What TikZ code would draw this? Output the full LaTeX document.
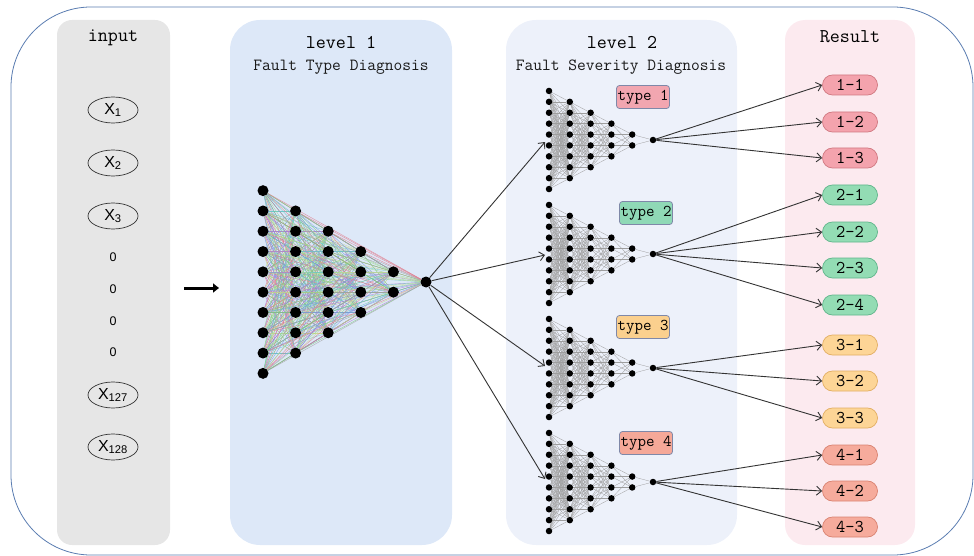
\documentclass[tikz,border=0pt]{standalone}
\usepackage{fontspec}
\newfontfamily\arialf{Liberation Sans}
\usetikzlibrary{arrows.meta,shapes.geometric}
\pgfdeclarelayer{panel}
\pgfdeclarelayer{edge}
\pgfsetlayers{panel,edge,main}
\definecolor{framec}{HTML}{5B7DB1}
\definecolor{inpc}{HTML}{E6E6E6}
\definecolor{lvlonec}{HTML}{DDE8F8}
\definecolor{lvltwoc}{HTML}{EDF1FA}
\definecolor{resc}{HTML}{FCEAEF}
\definecolor{typeborder}{HTML}{7F88A8}
\definecolor{tonef}{HTML}{F2A6B0}
\definecolor{ttwof}{HTML}{8FD9B6}
\definecolor{tthreef}{HTML}{FBD08E}
\definecolor{tfourf}{HTML}{F5A898}
\definecolor{ponef}{HTML}{F4A3AD}\definecolor{poned}{HTML}{D07880}
\definecolor{ptwof}{HTML}{93DCB4}\definecolor{ptwod}{HTML}{5FB58A}
\definecolor{pthreef}{HTML}{FDD596}\definecolor{pthreed}{HTML}{E2AE62}
\definecolor{pfourf}{HTML}{F6AB9C}\definecolor{pfourd}{HTML}{D98270}
\definecolor{ec0}{HTML}{E07A8A}
\definecolor{ec1}{HTML}{7CC87C}
\definecolor{ec2}{HTML}{7A9AE0}
\definecolor{ec3}{HTML}{B07AD0}
\definecolor{ec4}{HTML}{6CC8C8}
\definecolor{ec5}{HTML}{C8D890}
\definecolor{ec6}{HTML}{9AD88A}
\definecolor{ec7}{HTML}{A0A0A0}
\tikzset{
  panelbox/.style={rounded corners=#1, draw=none},
  head/.style={font=\ttfamily\fontsize{19.5}{19.5}\selectfont, anchor=base, text=black},
  subhead/.style={font=\ttfamily\fontsize{17}{17}\selectfont, anchor=base, text=black!90},
  xin/.style={ellipse, draw=black!80, line width=0.7pt, minimum width=50pt, minimum height=26pt, inner sep=0pt, font=\arialf\fontsize{16}{16}\selectfont},
  zeroin/.style={font=\arialf\fontsize{12.5}{12.5}\selectfont, inner sep=0pt},
  bigneuron/.style={circle, fill=black, inner sep=0pt, minimum size=11pt},
  smallneuron/.style={circle, fill=black, inner sep=0pt, minimum size=6.5pt},
  bigedge/.style={line width=0.4pt},
  smalledge/.style={line width=0.3pt, draw=black!38},
  typebox/.style={draw=typeborder, line width=0.8pt, rounded corners=3pt, minimum width=53pt, minimum height=23pt, inner sep=0pt, font=\ttfamily\fontsize{16.5}{16.5}\selectfont},
  pill/.style={rounded corners=10pt, line width=0.7pt, minimum width=55pt, minimum height=20pt, inner sep=0pt, font=\ttfamily\fontsize{18}{18}\selectfont},
  conn/.style={draw=black!80, line width=0.9pt, -{Straight Barb[length=5pt,width=9pt]}},
}
\newcommand\mynet[7]{%
  \foreach \n [count=\l] in {10,8,6,4,2,1} {
    \foreach \k in {1,...,\n} {
      \node[#6] (#1-\l-\k) at ({#2+(\l-1)*#3}, {#4+(\k-(\n+1)/2)*#5}) {};
    }
  }
  \begin{pgfonlayer}{edge}
  \foreach \l/\n/\m in {1/10/8,2/8/6,3/6/4,4/4/2,5/2/1} {
    \pgfmathtruncatemacro\lp{\l+1}
    \foreach \a in {1,...,\n} {
      \foreach \b in {1,...,\m} {
        \pgfmathtruncatemacro\ci{mod(\a*3+\b*5+\l,8)}
        \draw[#7] (#1-\l-\a) -- (#1-\lp-\b);
      }
    }
  }
  \end{pgfonlayer}
}
\begin{document}
\begin{tikzpicture}[x=1pt,y=-1pt]
\useasboundingbox (0,0) rectangle (974,556);
\begin{pgfonlayer}{panel}
\draw[framec, line width=0.8pt, rounded corners=80pt] (11,7) rectangle (973,555);
\fill[inpc, panelbox=15pt] (57,20) rectangle (170,545);
\fill[lvlonec, panelbox=30pt] (230,20) rectangle (452,545);
\fill[lvltwoc, panelbox=30pt] (506,20) rectangle (737,545);
\fill[resc, panelbox=20pt] (785,20) rectangle (915,545);
\end{pgfonlayer}

% headings
\node[head] (hin) at (113,42) {input};
\node[head] (hl1) at (341,49) {level 1};
\node[subhead] (sl1) at (341,71) {Fault Type Diagnosis};
\node[head] (hl2) at (622,49) {level 2};
\node[subhead] (sl2) at (621,71) {Fault Severity Diagnosis};
\node[head] (hres) at (850,43) {Result};

% inputs
\node[xin] (x1) at (113,110) {X\textsubscript{1}};
\node[xin] (x2) at (113,163) {X\textsubscript{2}};
\node[xin] (x3) at (113,216) {X\textsubscript{3}};
\node[zeroin] (z1) at (113,257) {0};
\node[zeroin] (z2) at (113,289) {0};
\node[zeroin] (z3) at (113,321) {0};
\node[zeroin] (z4) at (113,352) {0};
\node[xin] (x127) at (113,395) {X\textsubscript{127}};
\node[xin] (x128) at (113,447) {X\textsubscript{128}};

% thick arrow
\coordinate (fa) at (184,288);
\coordinate (fb) at (219,288);
\draw[line width=3pt, -{Triangle[length=6pt,width=9pt]}] (fa) -- (fb);

% big network
\mynet{B}{263}{32.6}{282}{20.3}{bigneuron}{bigedge, draw=ec\ci}
\begin{pgfonlayer}{edge}
\foreach \l/\n in {1/10,2/8,3/6,4/4} {
  \pgfmathtruncatemacro\lq{\l+2}
  \foreach \q/\m in {\lq/0} {}
  \foreach \lt/\mt in {3/6,4/4,5/2,6/1} {
    \ifnum\lt>\numexpr\l+1\relax
    \foreach \a in {1,...,\n} {
      \foreach \b in {1,...,\mt} {
        \pgfmathtruncatemacro\ci{mod(\a*7+\b*3+\lt,8)}
        \draw[bigedge, draw=ec\ci, opacity=0.8] (B-\l-\a) -- (B-\lt-\b);
      }
    }
    \fi
  }
}
\end{pgfonlayer}

% small networks
\mynet{N1}{549}{20.8}{140}{10.9}{smallneuron}{smalledge}
\mynet{N2}{549}{20.8}{254}{10.9}{smallneuron}{smalledge}
\mynet{N3}{549}{20.8}{368}{10.9}{smallneuron}{smalledge}
\mynet{N4}{549}{20.8}{482}{10.9}{smallneuron}{smalledge}

% type labels
\node[typebox, fill=tonef] (t1) at (643,97) {type 1};
\node[typebox, fill=ttwof] (t2) at (646,213) {type 2};
\node[typebox, fill=tthreef] (t3) at (643,327) {type 3};
\node[typebox, fill=tfourf] (t4) at (646,443) {type 4};

% arrows level1 -> level2
\coordinate (in1) at (545,142);
\coordinate (in2) at (545,255);
\coordinate (in3) at (545,366);
\coordinate (in4) at (545,479);
\foreach \i in {1,...,4} \draw[conn] (B-6-1) -- (in\i);

% results
\node[pill, fill=ponef, draw=poned] (r11) at (850,85) {1-1};
\node[pill, fill=ponef, draw=poned] (r12) at (850,122) {1-2};
\node[pill, fill=ponef, draw=poned] (r13) at (850,158) {1-3};
\node[pill, fill=ptwof, draw=ptwod] (r21) at (850,195) {2-1};
\node[pill, fill=ptwof, draw=ptwod] (r22) at (850,232) {2-2};
\node[pill, fill=ptwof, draw=ptwod] (r23) at (850,268) {2-3};
\node[pill, fill=ptwof, draw=ptwod] (r24) at (850,305) {2-4};
\node[pill, fill=pthreef, draw=pthreed] (r31) at (850,345) {3-1};
\node[pill, fill=pthreef, draw=pthreed] (r32) at (850,381) {3-2};
\node[pill, fill=pthreef, draw=pthreed] (r33) at (850,418) {3-3};
\node[pill, fill=pfourf, draw=pfourd] (r41) at (850,455) {4-1};
\node[pill, fill=pfourf, draw=pfourd] (r42) at (850,491) {4-2};
\node[pill, fill=pfourf, draw=pfourd] (r43) at (850,527) {4-3};

\foreach \j in {1,2,3} \draw[conn] (N1-6-1) -- (r1\j.west);
\foreach \j in {1,2,3,4} \draw[conn] (N2-6-1) -- (r2\j.west);
\foreach \j in {1,2,3} \draw[conn] (N3-6-1) -- (r3\j.west);
\foreach \j in {1,2,3} \draw[conn] (N4-6-1) -- (r4\j.west);
\end{tikzpicture}
\end{document}
